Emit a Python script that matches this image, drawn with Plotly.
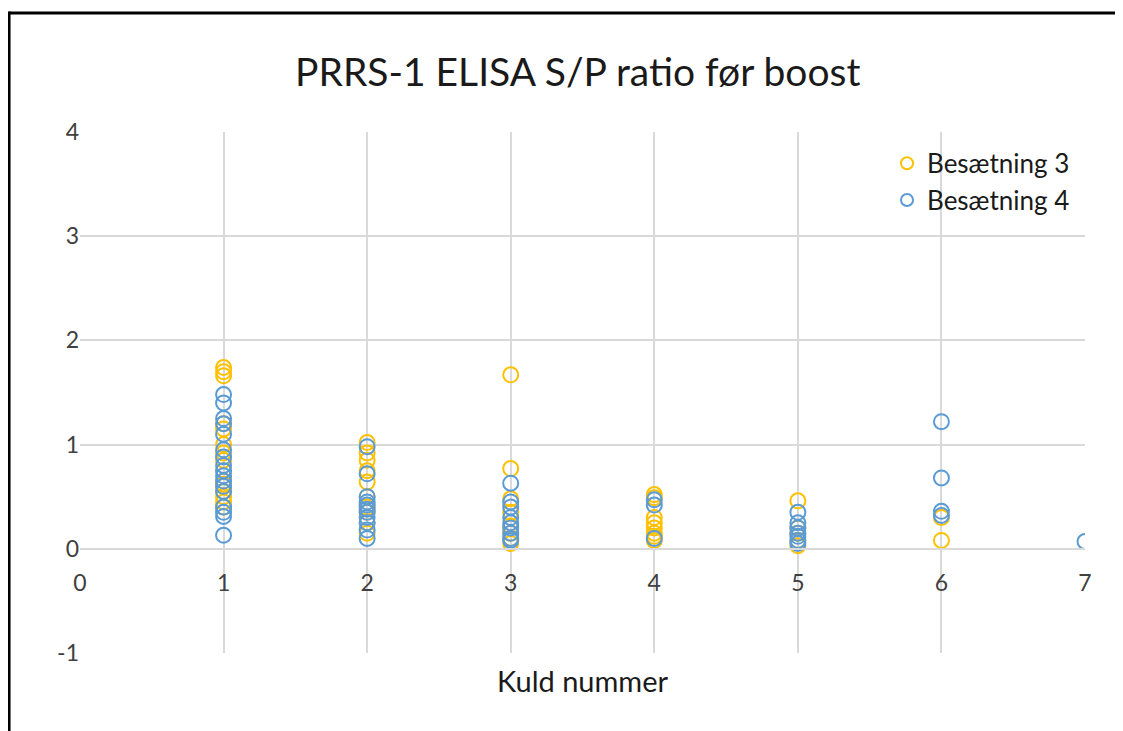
import plotly.graph_objects as go

# Kuld nummer (x) and S/P ratio (y) per herd
b3_kuld = [1]*16 + [2]*10 + [3]*8 + [4]*8 + [5]*5 + [6]*2
b3_sp = [1.74, 1.70, 1.66, 1.20, 1.15, 1.00, 0.92, 0.85, 0.75, 0.65, 0.60, 0.55, 0.50, 0.45, 0.40, 0.62,
         1.02, 0.92, 0.85, 0.75, 0.64, 0.50, 0.35, 0.25, 0.15, 0.40,
         1.67, 0.77, 0.48, 0.35, 0.22, 0.10, 0.05, 0.15,
         0.52, 0.49, 0.30, 0.25, 0.20, 0.15, 0.12, 0.08,
         0.46, 0.20, 0.15, 0.08, 0.03,
         0.30, 0.08]
b4_kuld = [1]*17 + [2]*11 + [3]*9 + [4]*3 + [5]*7 + [6]*4 + [7]
b4_sp = [1.48, 1.40, 1.25, 1.20, 1.10, 0.95, 0.88, 0.75, 0.70, 0.65, 0.60, 0.55, 0.40, 0.35, 0.31, 0.13, 0.80,
         0.98, 0.72, 0.50, 0.45, 0.42, 0.38, 0.30, 0.25, 0.18, 0.10, 0.35,
         0.63, 0.45, 0.40, 0.25, 0.20, 0.15, 0.10, 0.08, 0.30,
         0.47, 0.42, 0.10,
         0.35, 0.25, 0.20, 0.15, 0.12, 0.08, 0.05,
         1.22, 0.68, 0.36, 0.32,
         0.07]

x_ticks = [0, 1, 2, 3, 4, 5, 6, 7]
y_ticks = [-1, 0, 1, 2, 3, 4]

FONT = "Lato"
GRID = "#d9d9d9"
TXT = "#404040"

fig = go.Figure()
fig.add_trace(go.Scatter(
    x=b3_kuld, y=b3_sp, mode="markers", name="Besætning 3",
    marker=dict(symbol="circle-open", size=15, color="#FFC000", line=dict(width=2, color="#FFC000")),
))
fig.add_trace(go.Scatter(
    x=b4_kuld, y=b4_sp, mode="markers", name="Besætning 4",
    marker=dict(symbol="circle-open", size=15, color="#5B9BD5", line=dict(width=2, color="#5B9BD5")),
))

fig.update_layout(
    width=1115, height=723,
    margin=dict(l=72, r=38, t=124, b=78),
    paper_bgcolor="white", plot_bgcolor="white",
    font=dict(family=FONT, color=TXT, size=23),
    title=dict(text="PRRS-1 ELISA S/P ratio før boost", x=0.511, xanchor="center",
               y=0.9115, yanchor="middle", font=dict(size=39, color="#1a1a1a", family=FONT)),
    legend=dict(x=0.803, y=0.985, xanchor="left", yanchor="top", bgcolor="rgba(0,0,0,0)",
                font=dict(size=26, color="#1a1a1a", family=FONT), itemsizing="constant",
                tracegroupgap=8),
    showlegend=True,
    xaxis=dict(range=[0, 7], tickvals=x_ticks, ticktext=[str(v) for v in x_ticks],
               showgrid=True, gridcolor=GRID, gridwidth=2, zeroline=False,
               anchor="free", position=0.2, showline=True, linecolor=GRID, linewidth=2,
               ticks="", ticklabelstandoff=14, tickfont=dict(size=23, color=TXT)),
    yaxis=dict(range=[-1, 4], tickvals=y_ticks, ticktext=[str(v) for v in y_ticks],
               showgrid=True, gridcolor=GRID, gridwidth=2, zeroline=False,
               showline=False, ticks="", ticklabelstandoff=0,
               tickfont=dict(size=23, color=TXT)),
    annotations=[dict(text="Kuld nummer", xref="paper", yref="paper", x=0.5, y=-0.052,
                      xanchor="center", yanchor="middle", showarrow=False,
                      font=dict(size=29, color="#1a1a1a", family=FONT))],
    shapes=[
        dict(type="line", xref="paper", yref="paper", x0=-0.0706, x1=1.05, y0=1.2284, y1=1.2284,
             line=dict(color="black", width=3)),
        dict(type="line", xref="paper", yref="paper", x0=-0.0706, x1=-0.0706, y0=1.2313, y1=-0.2,
             line=dict(color="black", width=3)),
    ],
)

fig.write_html("out.html")
